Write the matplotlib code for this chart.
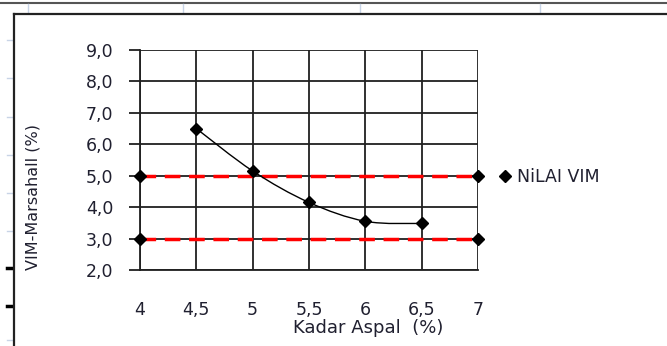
import matplotlib
matplotlib.use("Agg")
import matplotlib.pyplot as plt
from matplotlib.path import Path
from matplotlib.patches import PathPatch
from matplotlib.lines import Line2D

# ---- data ----
kadar_aspal = [4.5, 5.0, 5.5, 6.0, 6.5]
nilai_vim = [6.5, 5.15, 4.15, 3.55, 3.48]
limit_x = [4.0, 7.0]
limit_upper = [5.0, 5.0]
limit_lower = [3.0, 3.0]
x_ticks = [4, 4.5, 5, 5.5, 6, 6.5, 7]
x_ticklabels = ["4", "4,5", "5", "5,5", "6", "6,5", "7"]
y_ticks = [2, 3, 4, 5, 6, 7, 8, 9]
y_ticklabels = ["2,0", "3,0", "4,0", "5,0", "6,0", "7,0", "8,0", "9,0"]
series_label = "NiLAI VIM"
x_label = "Kadar Aspal  (%)"
y_label = "VIM-Marsahall (%)"

plt.rcParams['font.family'] = ['DejaVu Sans']
TXT = '#202030'

W, H = 667, 346
fig = plt.figure(figsize=(W / 100, H / 100), dpi=100)

def fx(px):
    return px / W

def fy(py):
    return 1 - py / H

# spreadsheet decorations
fig.add_artist(Line2D([0, 1], [fy(3), fy(3)], color='#555555', lw=1.5))
for px in [28, 183, 360, 540]:
    fig.add_artist(Line2D([fx(px), fx(px)], [fy(4), fy(13)], color='#c8d4e6', lw=1))
for py in [40, 78, 117, 155, 193, 231, 340]:
    fig.add_artist(Line2D([fx(7), fx(12)], [fy(py), fy(py)], color='#c8d4e6', lw=1))
for py in [268, 306]:
    fig.add_artist(Line2D([fx(7), fx(12)], [fy(py), fy(py)], color='black', lw=2.5))
# chart area border
fig.add_artist(Line2D([fx(14), 1], [fy(14), fy(14)], color='#222222', lw=1.6))
fig.add_artist(Line2D([fx(14), fx(14)], [fy(14), 0], color='#222222', lw=1.6))

ax = fig.add_axes([fx(140), fy(270), fx(478) - fx(140), fy(50) - fy(270)])
ax.set_xlim(4, 7)
ax.set_ylim(2, 9)
for s in ax.spines.values():
    s.set_visible(False)
ax.spines['left'].set_visible(True)
ax.spines['bottom'].set_visible(True)
ax.spines['left'].set_color('#202020')
ax.spines['bottom'].set_color('#202020')
ax.spines['left'].set_linewidth(1.3)
ax.spines['bottom'].set_linewidth(1.3)
ax.grid(True, color='#202020', lw=1.3)
ax.set_axisbelow(True)

ax.set_xticks(x_ticks)
ax.set_xticklabels(x_ticklabels)
ax.set_yticks(y_ticks)
ax.set_yticklabels(y_ticklabels)
ax.tick_params(axis='x', length=0, pad=22, labelsize=12.5, labelcolor=TXT)
ax.tick_params(axis='y', length=8, width=1.3, color='#202020', pad=11, labelsize=12.5, labelcolor=TXT)

# limit lines
for ly in (limit_upper, limit_lower):
    ax.plot(limit_x, ly, color='#ff0000', lw=2.5, ls=(0, (4.5, 2.5)),
            marker='D', ms=6, mfc='black', mec='black', zorder=3, clip_on=False)

# smoothed series curve (Excel style bezier)
pts = list(zip(kadar_aspal, nilai_vim))
n = len(pts)
verts = [pts[0]]
codes = [Path.MOVETO]
for i in range(n - 1):
    p0 = pts[i - 1] if i > 0 else pts[i]
    p1 = pts[i]
    p2 = pts[i + 1]
    p3 = pts[i + 2] if i + 2 < n else pts[i + 1]
    c1 = (p1[0] + (p2[0] - p0[0]) / 6, p1[1] + (p2[1] - p0[1]) / 6)
    c2 = (p2[0] - (p3[0] - p1[0]) / 6, p2[1] - (p3[1] - p1[1]) / 6)
    verts += [c1, c2, p2]
    codes += [Path.CURVE4] * 3
ax.add_patch(PathPatch(Path(verts, codes), fc='none', ec='black', lw=1.0, zorder=4))
ax.plot(kadar_aspal, nilai_vim, ls='none', marker='D', ms=6, mfc='black', mec='black',
        zorder=5, label=series_label)

leg = ax.legend(loc='center left', bbox_to_anchor=(fx(499), fy(177)), bbox_transform=fig.transFigure,
                frameon=False, handlelength=0.7, handletextpad=0.35, fontsize=12.5,
                borderpad=0, borderaxespad=0)
for t in leg.get_texts():
    t.set_color(TXT)

fig.text(fx(368), fy(328), x_label, ha='center', va='center', fontsize=13, color=TXT)
fig.text(fx(33), fy(197), y_label, ha='center', va='center', fontsize=11.5, color=TXT, rotation=90)

fig.savefig('out.png', dpi=100)
